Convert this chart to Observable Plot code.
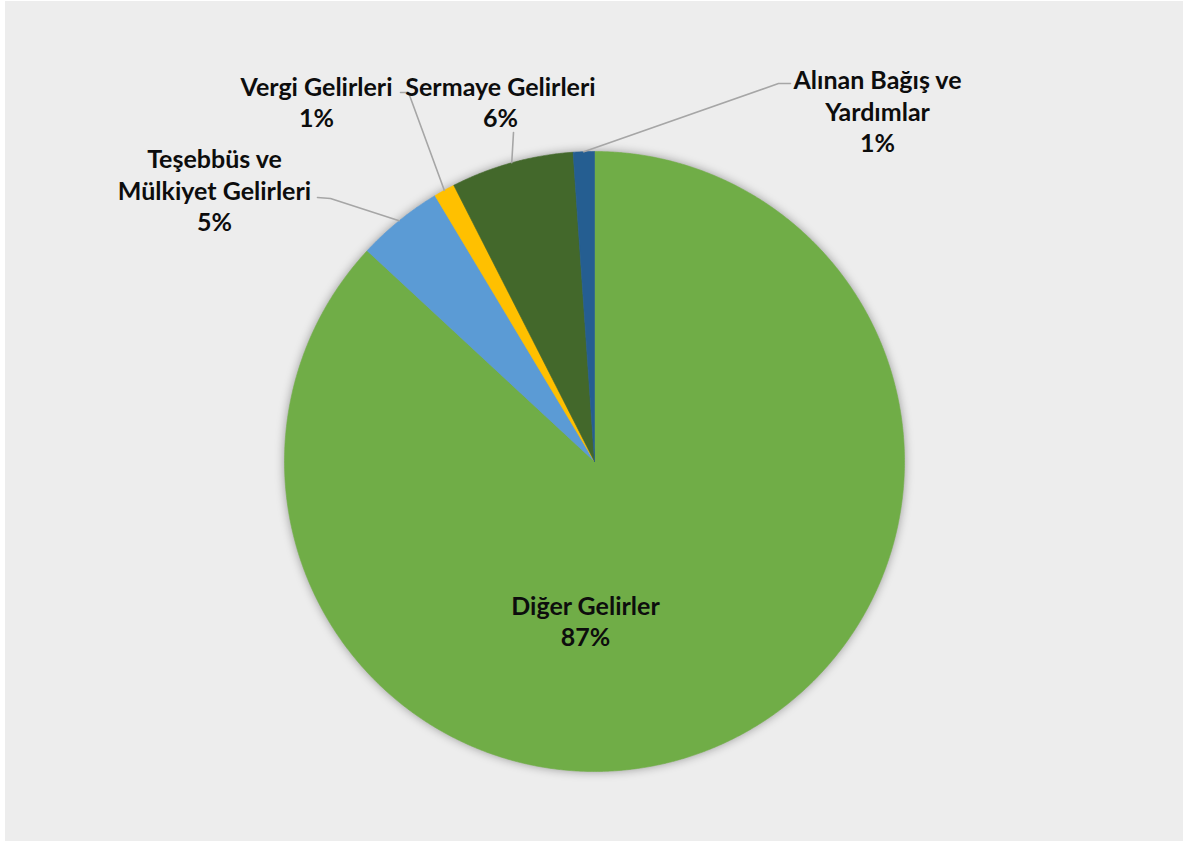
<!DOCTYPE html>
<html>
<head>
<meta charset="utf-8">
<script src="https://cdn.jsdelivr.net/npm/d3@7"></script>
<script src="https://cdn.jsdelivr.net/npm/@observablehq/plot@0.6"></script>
<style>
  html, body { margin: 0; padding: 0; background: #ffffff; }
  #chart { position: absolute; left: 5px; top: 1px; width: 1178px; height: 840px; background: #EDEDED; }
</style>
</head>
<body>
<div id="chart"></div>
<script>
// ---- data ----
const categories = ["Diğer Gelirler", "Teşebbüs ve Mülkiyet Gelirleri", "Vergi Gelirleri", "Sermaye Gelirleri", "Alınan Bağış ve Yardımlar"];
const labelLines = ["Diğer Gelirler", "Teşebbüs ve\nMülkiyet Gelirleri", "Vergi Gelirleri", "Sermaye Gelirleri", "Alınan Bağış ve\nYardımlar"];
const shares = [86.9, 4.5, 1.1, 6.4, 1.1];
const percentLabels = ["87%", "5%", "1%", "6%", "1%"];
const colors = ["#70AD47", "#5B9BD5", "#FFC000", "#43682B", "#255E91"];

// ---- layout (page pixels) ----
const cx = 594, cy = 461, R = 310;
const labelPos = [[585, 620], [214, 189], [316, 101], [500, 101], [877, 110]];
const leaderStart = [null, [[317, 197], [330, 198]], [[400, 92], [408, 92]], [[513, 132]], [[790, 83], [778, 83]]];

const arcs = d3.pie().sort(null).value(d => d)(shares);
const slices = [];
arcs.forEach((a, i) => {
  const n = Math.max(4, Math.ceil((a.endAngle - a.startAngle) / 0.005));
  slices.push({cat: categories[i], x: cx, y: cy});
  for (let k = 0; k <= n; k++) {
    const t = a.startAngle + (a.endAngle - a.startAngle) * k / n;
    slices.push({cat: categories[i], x: cx + R * Math.sin(t), y: cy - R * Math.cos(t)});
  }
  slices.push({cat: categories[i], x: cx, y: cy});
});

const leaders = [];
arcs.forEach((a, i) => {
  if (!leaderStart[i]) return;
  const m = (a.startAngle + a.endAngle) / 2;
  leaderStart[i].forEach(p => leaders.push({cat: categories[i], x: p[0], y: p[1]}));
  leaders.push({cat: categories[i], x: cx + R * Math.sin(m), y: cy - R * Math.cos(m)});
});

const labels = categories.map((c, i) => ({
  cat: c, x: labelPos[i][0], y: labelPos[i][1],
  text: labelLines[i] + "\n" + percentLabels[i]
}));

const chart = Plot.plot({
  width: 1178,
  height: 840,
  margin: 0,
  x: {domain: [5, 1183], range: [0, 1178], axis: null},
  y: {domain: [1, 841], range: [0, 840], axis: null},
  color: {domain: categories, range: colors},
  style: {background: "transparent", fontFamily: "Lato, 'Open Sans', sans-serif", overflow: "visible"},
  marks: [
    Plot.line(slices, {x: "x", y: "y", z: "cat", fill: "cat", stroke: "cat", strokeWidth: 0.6, curve: "linear"}),
    Plot.line(leaders, {x: "x", y: "y", z: "cat", stroke: "#A6A6A6", strokeWidth: 1.6}),
    Plot.text(labels, {x: "x", y: "y", text: "text", fontSize: 25, fontWeight: "bold", lineHeight: 1.25, fill: "#0d0d0d"})
  ]
});
const groups = chart.querySelectorAll('g[aria-label="line"]');
if (groups[0]) groups[0].style.filter = "drop-shadow(0px 0px 5px rgba(0,0,0,0.35))";
document.getElementById("chart").appendChild(chart);
</script>
</body>
</html>
